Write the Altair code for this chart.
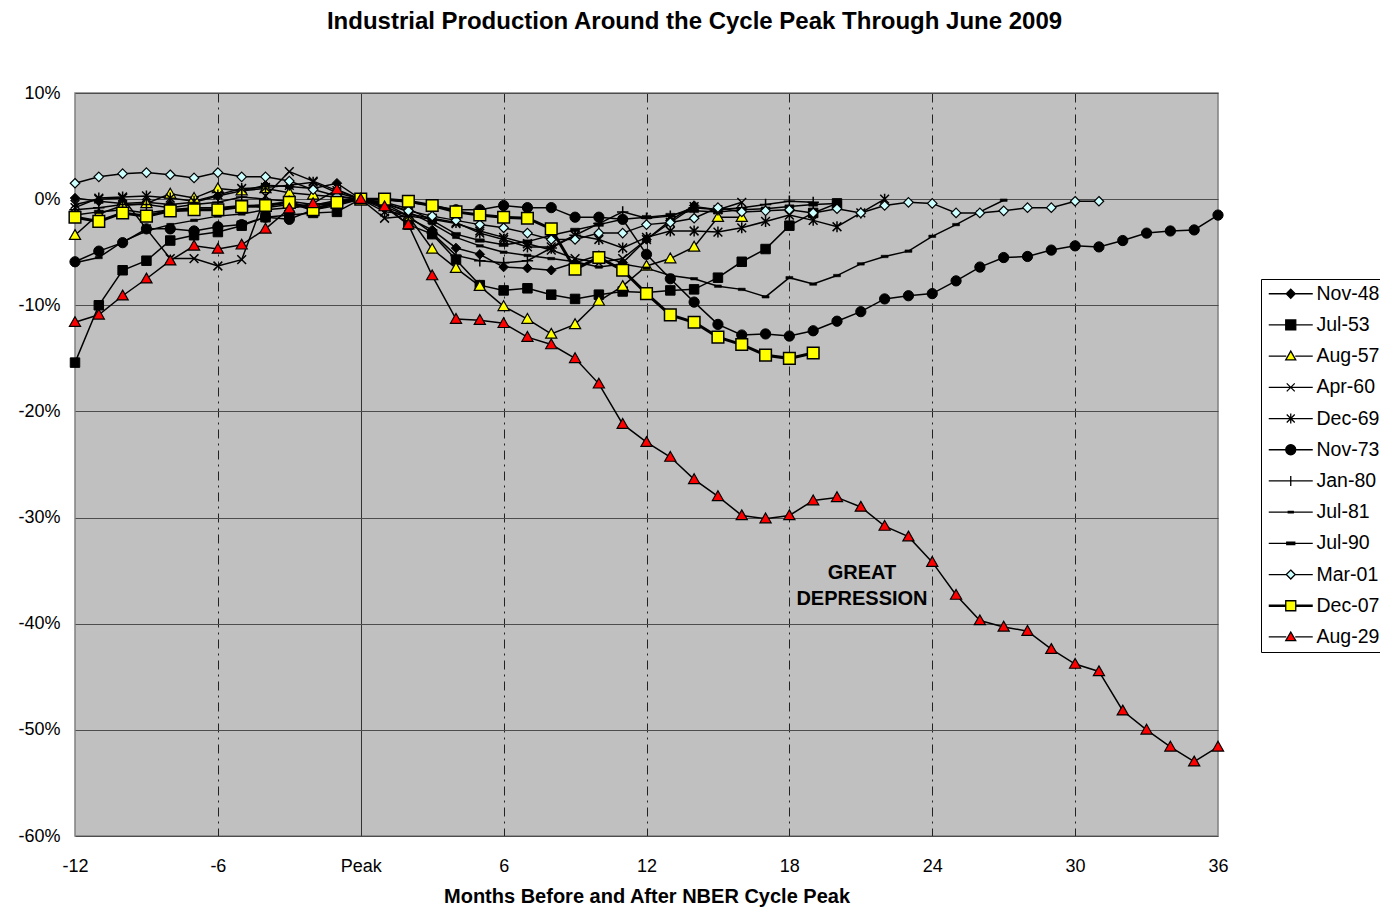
import altair as alt
import pandas as pd

FONT = "Liberation Sans, Arial, sans-serif"
TITLE = "Industrial Production Around the Cycle Peak Through June 2009"
X_TITLE = "Months Before and After NBER Cycle Peak"

SERIES = ["Nov-48", "Jul-53", "Aug-57", "Apr-60", "Dec-69", "Nov-73",
          "Jan-80", "Jul-81", "Jul-90", "Mar-01", "Dec-07", "Aug-29"]
START_MONTH = -12

# percent change from cycle peak, month -12 onward
NOV48 = [0.1, -0.2, -0.4, -0.3, -0.5, -0.3, 0.3, 0.8, 1.3, 1.2, 1.0, 1.5, 0.0,
         -0.9, -1.8, -2.9, -4.6, -5.2, -6.4, -6.5, -6.7, -6.0, -5.3, -6.0, -3.8, -2.0, -0.6]
JUL53 = [-15.4, -10.0, -6.7, -5.8, -3.9, -3.4, -3.1, -2.5, -1.7, -1.5, -1.3, -1.2, 0.0,
         -0.6, -2.4, -3.3, -5.7, -8.1, -8.6, -8.4, -9.0, -9.4, -9.0, -8.7, -8.8, -8.6,
         -8.5, -7.4, -5.9, -4.7, -2.5, -1.3, -0.4]
AUG57 = [-3.4, -1.4, -0.6, -0.4, 0.5, 0.1, 1.0, 0.8, 1.0, 0.6, 0.4, 0.2, 0.0,
         -0.4, -1.6, -4.7, -6.5, -8.2, -10.1, -11.3, -12.7, -11.8, -9.6, -8.2, -6.3,
         -5.6, -4.5, -1.7, -1.7]
APR60 = [-0.5, 0.0, 0.1, -2.8, -5.6, -5.6, -6.3, -5.7, 0.3, 2.6, 1.7, 0.8, 0.0,
         -1.8, -1.6, -1.9, -2.3, -3.0, -3.6, -4.2, -4.8, -5.6, -6.0, -5.6, -3.8, -2.2,
         -0.7, -1.0, -0.3]
DEC69 = [-0.8, 0.1, 0.2, 0.3, 0.1, -0.2, 0.4, 1.0, 1.1, 1.3, 1.6, 0.6, 0.0,
         -1.2, -1.4, -1.8, -2.2, -3.2, -3.8, -4.5, -4.5, -3.4, -3.8, -4.6, -3.6, -3.0,
         -3.0, -3.1, -2.7, -2.1, -1.5, -2.0, -2.6, -1.3, 0.0]
NOV73 = [-5.9, -4.9, -4.1, -2.8, -2.8, -3.0, -2.6, -2.4, -1.7, -1.9, -1.0, -0.6, 0.0,
         0.0, -0.3, -0.6, -1.0, -1.0, -0.6, -0.8, -0.8, -1.7, -1.7, -1.9, -5.2, -7.5,
         -9.7, -11.8, -12.8, -12.7, -12.9, -12.4, -11.5, -10.6, -9.4, -9.1, -8.9, -7.7,
         -6.4, -5.5, -5.4, -4.8, -4.4, -4.5, -3.9, -3.2, -3.0, -2.9, -1.5]
JAN80 = [-1.0, -0.8, -0.5, -0.5, -0.8, -0.5, -0.3, 0.2, 0.0, -0.2, -0.5, -0.3, 0.0,
         -0.7, -1.6, -3.2, -5.3, -5.8, -6.0, -5.8, -4.6, -3.4, -2.3, -1.2, -1.8, -1.6,
         -0.8, -1.0, -0.8, -0.5, -0.2, -0.3]
JUL81 = [-6.0, -5.5, -4.0, -3.0, -2.4, -2.0, -1.6, -1.4, -1.0, -0.8, -0.6, -0.1, 0.0,
         -0.4, -1.2, -2.3, -3.6, -4.4, -5.0, -5.3, -5.6, -5.9, -6.4, -6.1, -6.5, -7.2,
         -7.5, -8.2, -8.5, -9.2, -7.4, -8.0, -7.2, -6.1, -5.4, -4.9, -3.5, -2.4, -1.2, -0.1]
JUL90 = [-1.5, -1.2, -1.0, -1.3, -1.0, -0.8, -0.8, -0.6, -0.8, -0.5, -0.6, -0.4, 0.0,
         -0.3, -0.9, -2.0, -3.3, -3.9, -4.3, -4.0, -3.4, -2.9, -2.4, -1.9, -1.7, -1.5,
         -1.1, -1.2, -1.0, -0.9, -0.7, -0.5, -0.4]
MAR01 = [1.5, 2.1, 2.4, 2.5, 2.3, 2.0, 2.5, 2.1, 2.1, 1.7, 0.9, 0.3, 0.0,
         -0.4, -1.1, -1.6, -2.0, -2.4, -2.7, -3.2, -3.8, -3.8, -3.2, -3.2, -2.4, -2.2,
         -1.8, -0.8, -1.2, -1.1, -1.0, -1.3, -0.9, -1.3, -0.6, -0.3, -0.4, -1.3, -1.3,
         -1.1, -0.8, -0.8, -0.2, -0.2]
DEC07 = [-1.7, -2.1, -1.3, -1.6, -1.1, -1.0, -1.0, -0.7, -0.6, -0.3, -1.0, -0.3, 0.0,
         0.0, -0.2, -0.6, -1.2, -1.5, -1.7, -1.8, -2.8, -6.6, -5.5, -6.7, -8.9, -10.9,
         -11.6, -13.0, -13.7, -14.7, -15.0, -14.5]
AUG29 = [-11.6, -10.9, -9.1, -7.5, -5.8, -4.4, -4.7, -4.3, -2.8, -0.9, -0.4, 0.9, 0.0,
         -0.7, -2.4, -7.2, -11.3, -11.4, -11.7, -13.0, -13.7, -15.0, -17.4, -21.2, -22.9,
         -24.3, -26.4, -28.0, -29.8, -30.1, -29.8, -28.4, -28.1, -29.0, -30.8, -31.8,
         -34.2, -37.3, -39.7, -40.3, -40.7, -42.4, -43.8, -44.5, -48.2, -50.0, -51.6,
         -53.0, -51.6]

VALUES = [NOV48, JUL53, AUG57, APR60, DEC69, NOV73, JAN80, JUL81, JUL90, MAR01, DEC07, AUG29]

X_TICKS = [-12, -6, 0, 6, 12, 18, 24, 30, 36]
Y_TICKS = [10, 0, -10, -20, -30, -40, -50, -60]

NOTE_TEXT = ["GREAT", "DEPRESSION"]
NOTE_X = [21.05, 21.05]
NOTE_Y = [-35.2, -37.7]

# ---- marker styling ----
P = {
    "diamond": "M0,-1L1,0L0,1L-1,0Z",
    "square": "M-1,-1L1,-1L1,1L-1,1Z",
    "triangle": "M0,-1L1,0.75L-1,0.75Z",
    "x": "M-0.8,-0.8L0.8,0.8M-0.8,0.8L0.8,-0.8",
    "asterisk": "M-0.8,-0.8L0.8,0.8M-0.8,0.8L0.8,-0.8M0,-1L0,1",
    "circle": "circle",
    "plus": "M-1,0L1,0M0,-1L0,1",
    "dash_s": "M-0.7,-0.25L0.7,-0.25L0.7,0.25L-0.7,0.25Z",
    "dash_l": "M-0.9,-0.35L0.9,-0.35L0.9,0.35L-0.9,0.35Z",
}
STYLE = {
    #          shape       fill           size  marker-sw  line-w
    "Nov-48": ("diamond", "black", 90, 1.0, 1.5),
    "Jul-53": ("square", "black", 90, 1.0, 1.5),
    "Aug-57": ("triangle", "#FFFF00", 125, 1.2, 1.5),
    "Apr-60": ("x", "transparent", 120, 1.5, 1.5),
    "Dec-69": ("asterisk", "transparent", 120, 1.5, 1.5),
    "Nov-73": ("circle", "black", 105, 1.0, 1.5),
    "Jan-80": ("plus", "transparent", 130, 1.5, 1.5),
    "Jul-81": ("dash_s", "black", 100, 0.5, 1.5),
    "Jul-90": ("dash_l", "black", 100, 0.5, 1.5),
    "Mar-01": ("diamond", "#CCFFFF", 90, 1.2, 1.5),
    "Dec-07": ("square", "#FFFF00", 135, 1.5, 3.0),
    "Aug-29": ("triangle", "#FF0000", 125, 1.2, 1.5),
}

LEG_MARK = {
    "diamond": ("M0,-0.9L0.9,0L0,0.9L-0.9,0Z", 0.9),
    "square": ("M-1,-1L1,-1L1,1L-1,1Z", 1.0),
    "triangle": ("M0,-1L1,0.75L-1,0.75Z", 0.9),
    "x": ("M-0.8,-0.8L0.8,0.8M-0.8,0.8L0.8,-0.8", 0),
    "asterisk": ("M-0.8,-0.8L0.8,0.8M-0.8,0.8L0.8,-0.8M0,-1L0,1", 0),
    "circle": ("M-1,0A1,1,0,1,1,1,0A1,1,0,1,1,-1,0Z", 1.0),
    "plus": ("M0,-1L0,1", 0),
    "dash_s": ("M-0.5,-0.15L0.5,-0.15L0.5,0.15L-0.5,0.15Z", 0),
    "dash_l": ("M-0.8,-0.25L0.8,-0.25L0.8,0.25L-0.8,0.25Z", 0),
}
HALF = 4.4


def legend_path(name):
    shape = STYLE[name][0]
    m, r = LEG_MARK[shape]
    offs = [-0.14, 0.14] if name == "Dec-07" else [0]
    line = ""
    for o in offs:
        if r == 0:
            line += f"M-{HALF},{o}L{HALF},{o}"
        else:
            line += f"M-{HALF},{o}L-{r},{o}M{r},{o}L{HALF},{o}"
    return line + m


rows = []
for idx, (name, vals) in enumerate(zip(SERIES, VALUES)):
    shp, fill, size, msw, lw = STYLE[name]
    for i, v in enumerate(vals):
        rows.append({"series": name, "ord": idx, "month": START_MONTH + i, "value": v,
                     "shape": P[shp], "fill": fill, "size": size, "msw": msw, "lw": lw})
df = pd.DataFrame(rows)
notes = pd.DataFrame({"t": NOTE_TEXT, "x": NOTE_X, "y": NOTE_Y})

x_enc = alt.X("month:Q", scale=alt.Scale(domain=[-12, 36], nice=False, zero=False),
              axis=alt.Axis(values=X_TICKS, labelExpr="datum.value == 0 ? 'Peak' : datum.value",
                            title=X_TITLE, grid=True,
                            gridColor={"condition": {"test": "datum.value === 0", "value": "#333333"},
                                       "value": "#222222"},
                            gridDash={"condition": {"test": "datum.value === 0", "value": []},
                                      "value": [9, 5, 2, 5]},
                            gridOpacity={"condition": {"test": "datum.value === -12 || datum.value === 36",
                                                       "value": 0},
                                         "value": 1},
                            gridWidth=1, ticks=False, tickSize=0, domain=False,
                            labelPadding=21, labelFontSize=18, labelFont=FONT, labelColor="black",
                            labelFlush=False, titleFontSize=20, titleFont=FONT,
                            titleFontWeight="bold", titleColor="black", titleY=60,
                            titleBaseline="middle"))
y_enc = alt.Y("value:Q", scale=alt.Scale(domain=[-60, 10], nice=False, zero=False),
              axis=alt.Axis(values=Y_TICKS, labelExpr="datum.value + '%'", title=None,
                            grid=True, gridColor="#4d4d4d", gridWidth=1, ticks=False,
                            tickSize=0, domain=False, labelPadding=15, labelFontSize=18,
                            labelFont=FONT, labelColor="black"))

base = alt.Chart(df)
lines = base.mark_line(color="black").encode(
    x=x_enc, y=y_enc, detail="ord:O",
    strokeWidth=alt.StrokeWidth("lw:Q", scale=None), order="month:Q")

points = base.mark_point(filled=True, stroke="black", opacity=1).encode(
    x="month:Q", y="value:Q",
    shape=alt.Shape("shape:N", scale=None),
    fill=alt.Fill("fill:N", scale=None),
    size=alt.Size("size:Q", scale=None),
    strokeWidth=alt.StrokeWidth("msw:Q", scale=None))

leg = alt.Legend(title=None, orient="none", legendX=1186, legendY=186,
                 strokeColor="black", fillColor="white", padding=5,
                 symbolSize=100, symbolStrokeWidth=1.3, symbolStrokeColor="black",
                 symbolOffset=15, labelOffset=16, labelFontSize=19.5, labelFont=FONT,
                 labelColor="black", rowPadding=10.2, symbolOpacity=1)

legend_layer = base.transform_filter("datum.month == -12").mark_point(
    filled=True, opacity=0).encode(
    x="month:Q", y="value:Q",
    shape=alt.Shape("series:N", sort=SERIES,
                    scale=alt.Scale(domain=SERIES, range=[legend_path(s) for s in SERIES]),
                    legend=leg),
    fill=alt.Fill("series:N", sort=SERIES,
                  scale=alt.Scale(domain=SERIES, range=[STYLE[s][1] for s in SERIES]),
                  legend=leg),
    stroke=alt.Stroke("series:N", sort=SERIES,
                      scale=alt.Scale(domain=SERIES, range=["black"] * len(SERIES)),
                      legend=leg))

text = alt.Chart(notes).mark_text(font=FONT, fontSize=20, fontWeight="bold", color="black",
                                  align="center", baseline="middle").encode(
    x="x:Q", y="y:Q", text="t:N")

chart = alt.layer(lines, points, legend_layer, text).resolve_scale(
    shape="independent", fill="independent", size="independent",
    strokeWidth="independent", stroke="independent"
).properties(
    width=1143, height=743,
    background="white",
    autosize=alt.AutoSizeParams(type="none"),
    padding={"left": 67, "top": 85, "right": 162, "bottom": 71},
    title=alt.TitleParams(TITLE, font=FONT, fontSize=24, fontWeight="bold", color="black",
                          anchor="middle", frame="group", dx=48, offset=31,
                          baseline="alphabetic"),
).configure_view(fill="#C0C0C0", stroke="#808080", strokeWidth=1.5)

chart.save("out.html", embed_options={"renderer": "svg", "actions": False})
